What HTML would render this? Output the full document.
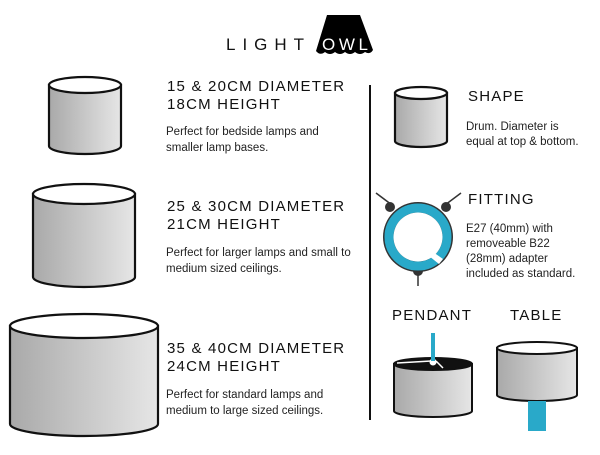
<!DOCTYPE html>
<html><head><style>
body{margin:0;background:#fff;}
svg text{font-family:"Liberation Sans",sans-serif;}
.h{font-size:15px;letter-spacing:1.2px;fill:#111;}
.p{font-size:11.5px;fill:#222;}
</style></head><body>
<svg width="600" height="450" viewBox="0 0 600 450" xmlns="http://www.w3.org/2000/svg">
<defs>
<linearGradient id="g" x1="0" x2="1"><stop offset="0" stop-color="#a9a9a9"/><stop offset="1" stop-color="#e6e6e6"/></linearGradient>
</defs>
<!-- logo -->
<text x="226" y="50" font-size="17" textLength="78" lengthAdjust="spacing" fill="#111">LIGHT</text>
<path d="M327 15 L360 15 L373 50 Q370 55 365 52 Q360 56 355 52 Q350 56 345 52 Q340 56 335 52 Q330 56 325 52 Q320 56 316 51 Z" fill="#000"/>
<text x="322" y="50" font-size="17" textLength="46" lengthAdjust="spacing" fill="#fff">OWL</text>
<g stroke="#111" stroke-width="2.2">
<path d="M49 85 L49 146 A36 8 0 0 0 121 146 L121 85 Z" fill="url(#g)"/>
<ellipse cx="85" cy="85" rx="36" ry="8" fill="#fff"/>
<path d="M33 194 L33 277 A51 10 0 0 0 135 277 L135 194 Z" fill="url(#g)"/>
<ellipse cx="84" cy="194" rx="51" ry="10" fill="#fff"/>
<path d="M10 326 L10 424 A74 12 0 0 0 158 424 L158 326 Z" fill="url(#g)"/>
<ellipse cx="84" cy="326" rx="74" ry="12" fill="#fff"/>
<path d="M395 93 L395 141 A26 6 0 0 0 447 141 L447 93 Z" fill="url(#g)"/>
<ellipse cx="421" cy="93" rx="26" ry="6" fill="#fff"/>
</g>
<text class="h" x="167" y="91">15 &amp; 20CM DIAMETER</text>
<text class="h" x="167" y="109">18CM HEIGHT</text>
<text class="p" x="166" y="135">Perfect for bedside lamps and</text>
<text class="p" x="166" y="151">smaller lamp bases.</text>
<text class="h" x="167" y="211">25 &amp; 30CM DIAMETER</text>
<text class="h" x="167" y="229">21CM HEIGHT</text>
<text class="p" x="166" y="256">Perfect for larger lamps and small to</text>
<text class="p" x="166" y="272">medium sized ceilings.</text>
<text class="h" x="167" y="353">35 &amp; 40CM DIAMETER</text>
<text class="h" x="167" y="371">24CM HEIGHT</text>
<text class="p" x="166" y="398">Perfect for standard lamps and</text>
<text class="p" x="166" y="414">medium to large sized ceilings.</text>
<line x1="370" y1="85" x2="370" y2="420" stroke="#111" stroke-width="2"/>
<text class="h" x="468" y="101">SHAPE</text>
<text class="p" x="466" y="130">Drum. Diameter is</text>
<text class="p" x="466" y="145">equal at top &amp; bottom.</text>
<!-- fitting -->
<g stroke="#333" stroke-width="1.5"><line x1="376" y1="193" x2="392" y2="205"/><line x1="461" y1="193" x2="445" y2="205"/><line x1="418" y1="272" x2="418" y2="286"/></g>
<circle cx="390" cy="207" r="5" fill="#333"/><circle cx="446" cy="207" r="5" fill="#333"/><circle cx="418" cy="271" r="5" fill="#333"/>
<circle cx="418" cy="237" r="35" fill="#333"/>
<circle cx="418" cy="237" r="29" fill="none" stroke="#29a9c9" stroke-width="9"/>
<circle cx="418" cy="237" r="24.5" fill="#fff"/>
<path d="M433 252 L443 259 L439 264 L429 256 Z" fill="#fff"/>
<text class="h" x="468" y="204">FITTING</text>
<text class="p" x="466" y="232">E27 (40mm) with</text>
<text class="p" x="466" y="247">removeable B22</text>
<text class="p" x="466" y="262">(28mm) adapter</text>
<text class="p" x="466" y="277">included as standard.</text>
<text class="h" x="392" y="320">PENDANT</text>
<text class="h" x="510" y="320">TABLE</text>
<g stroke="#111" stroke-width="2">
<path d="M394 364 L394 411 A39 6 0 0 0 472 411 L472 364 Z" fill="url(#g)"/>
<ellipse cx="433" cy="364" rx="39" ry="6" fill="#111"/>
<path d="M497 348 L497 395 A40 6 0 0 0 577 395 L577 348 Z" fill="url(#g)"/>
<ellipse cx="537" cy="348" rx="40" ry="6" fill="#fff"/>
</g>
<path d="M397 363 L431 361 M436 361 L443 368" stroke="#fff" stroke-width="1.5"/>
<circle cx="433" cy="362" r="3.5" fill="#fff"/>
<rect x="431" y="333" width="4" height="28" fill="#29a9c9"/>
<rect x="528" y="401" width="18" height="30" fill="#29a9c9"/>
</svg>
</body></html>
